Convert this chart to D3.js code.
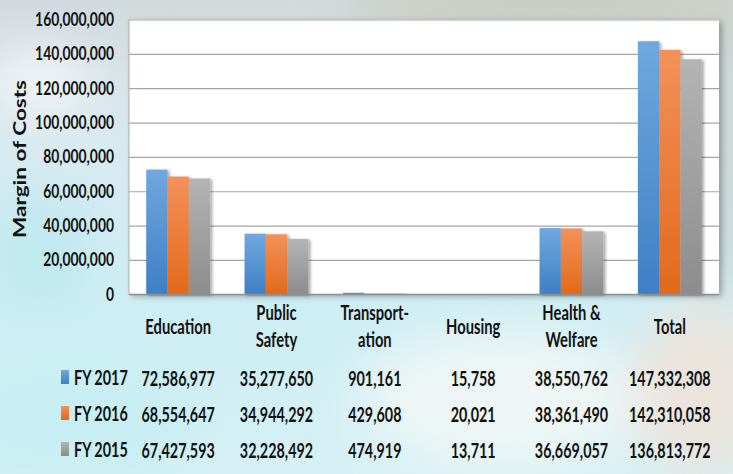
<!DOCTYPE html>
<html><head><meta charset="utf-8">
<script src="https://cdn.jsdelivr.net/npm/d3@7"></script>
<style>html,body{margin:0;padding:0;overflow:hidden;background:#fff}svg{display:block}</style>
</head><body><svg id="c" width="733" height="474"></svg>
<script>
// ---- data ----
const categories = ["Education", "Public Safety", "Transport-ation", "Housing", "Health & Welfare", "Total"];
const categoryLines = [["Education"], ["Public", "Safety"], ["Transport-", "ation"], ["Housing"], ["Health &", "Welfare"], ["Total"]];
const seriesNames = ["FY 2017", "FY 2016", "FY 2015"];
const fy2017 = [72586977, 35277650, 901161, 15758, 38550762, 147332308];
const fy2016 = [68554647, 34944292, 429608, 20021, 38361490, 142310058];
const fy2015 = [67427593, 32228492, 474919, 13711, 36669057, 136813772];
const yTicks = [0, 20000000, 40000000, 60000000, 80000000, 100000000, 120000000, 140000000, 160000000];
const yTitle = "Margin of Costs";

const seriesValues = [fy2017, fy2016, fy2015];
const colors = [["#70a8de", "#3e7fc6"], ["#f3915a", "#e2691a"], ["#b4b4b4", "#8c8c8c"]];

const W = 733, H = 474;
const plot = {left: 129, right: 719, top: 19.5, bottom: 294.3};
const FONT = "Lato, 'Open Sans', sans-serif";
const SX = 0.72;

const svg = d3.select("#c");
const defs = svg.append("defs");

// background
const bg = defs.append("linearGradient").attr("id", "bg").attr("x1", 0).attr("y1", 0).attr("x2", 0).attr("y2", 1);
bg.append("stop").attr("offset", 0).attr("stop-color", "#d3dadb");
bg.append("stop").attr("offset", 0.3).attr("stop-color", "#d9e9f0");
bg.append("stop").attr("offset", 0.65).attr("stop-color", "#cdeef4");
bg.append("stop").attr("offset", 1).attr("stop-color", "#d6f1f5");
defs.append("filter").attr("id", "blur").attr("x", "-50%").attr("y", "-50%").attr("width", "200%").attr("height", "200%")
  .append("feGaussianBlur").attr("stdDeviation", 25);
const sh = defs.append("filter").attr("id", "shadow").attr("x", "-20%").attr("y", "-5%").attr("width", "150%").attr("height", "115%");
sh.append("feDropShadow").attr("dx", 2).attr("dy", 1).attr("stdDeviation", 1.5).attr("flood-color", "#000").attr("flood-opacity", 0.35);
const psh = defs.append("filter").attr("id", "pshadow").attr("x", "-5%").attr("y", "-5%").attr("width", "110%").attr("height", "112%");
psh.append("feDropShadow").attr("dx", 3).attr("dy", 2).attr("stdDeviation", 3).attr("flood-color", "#000").attr("flood-opacity", 0.3);

svg.append("rect").attr("width", W).attr("height", H).attr("fill", "url(#bg)");
const blobs = svg.append("g").attr("filter", "url(#blur)");
blobs.append("ellipse").attr("cx", 560).attr("cy", 5).attr("rx", 220).attr("ry", 30).attr("fill", "#c8ccbf");
blobs.append("ellipse").attr("cx", 40).attr("cy", 80).attr("rx", 55).attr("ry", 35).attr("fill", "#f2f6f8");
blobs.append("ellipse").attr("cx", 60).attr("cy", 20).attr("rx", 60).attr("ry", 25).attr("fill", "#cfd9e2");
blobs.append("ellipse").attr("cx", 40).attr("cy", 250).attr("rx", 50).attr("ry", 60).attr("fill", "#bfe9f0");
blobs.append("ellipse").attr("cx", 700).attr("cy", 390).attr("rx", 70).attr("ry", 90).attr("fill", "#ebe4dd");
blobs.append("ellipse").attr("cx", 500).attr("cy", 400).attr("rx", 140).attr("ry", 70).attr("fill", "#eef6f5");
blobs.append("ellipse").attr("cx", 80).attr("cy", 420).attr("rx", 120).attr("ry", 60).attr("fill", "#c7eef3");
blobs.append("ellipse").attr("cx", 728).attr("cy", 160).attr("rx", 20).attr("ry", 140).attr("fill", "#c4ccc8");

// gradients for bars
colors.forEach((c, i) => {
  const g = defs.append("linearGradient").attr("id", "g" + i).attr("x1", 0).attr("y1", 0).attr("x2", 0).attr("y2", 1);
  g.append("stop").attr("offset", 0).attr("stop-color", c[0]);
  g.append("stop").attr("offset", 1).attr("stop-color", c[1]);
});

// scales
const x0 = d3.scaleBand().domain(categories).range([plot.left, plot.right]).paddingInner(0.35).paddingOuter(0.175);
const x1 = d3.scaleBand().domain(seriesNames).range([0, x0.bandwidth()]);
const y = d3.scaleLinear().domain([0, 160000000]).range([plot.bottom, plot.top]);

// plot area
svg.append("rect").attr("x", plot.left).attr("y", plot.top).attr("width", plot.right - plot.left)
  .attr("height", plot.bottom - plot.top).attr("fill", "#fff").attr("filter", "url(#pshadow)");

// gridlines via axis
const grid = svg.append("g").attr("transform", `translate(${plot.left},0)`)
  .call(d3.axisLeft(y).tickValues(yTicks).tickSize(-(plot.right - plot.left)).tickFormat(""));
grid.select(".domain").remove();
grid.selectAll("line").attr("stroke", "#a6a6a6").attr("stroke-width", 1.2);
svg.append("line").attr("x1", plot.left).attr("x2", plot.left).attr("y1", plot.top).attr("y2", plot.bottom)
  .attr("stroke", "#b0b0b0").attr("stroke-width", 1);

function stext(sel, x, yb, str, opt) {
  const g = sel.append("g").attr("transform", `translate(${x},${yb}) scale(${opt.sx || SX},1)`);
  return g.append("text").attr("text-anchor", opt.anchor || "middle").attr("font-family", FONT)
    .attr("font-weight", "bold").attr("font-size", opt.size).attr("fill", "#111").text(str);
}

// y tick labels
const fmt = d3.format(",");
const yl = svg.append("g");
yTicks.forEach(t => stext(yl, 114, y(t) + 6.5, fmt(t), {anchor: "end", size: 18.5, sx: 0.75}));

// y title
svg.append("g").attr("transform", `translate(25.5,159) rotate(-90)`)
  .append("text").attr("text-anchor", "middle").attr("font-family", FONT).attr("font-weight", "bold")
  .attr("font-size", 16.5).attr("fill", "#111").attr("textLength", 158).attr("lengthAdjust", "spacingAndGlyphs")
  .text(yTitle);

// bars
const groups = svg.append("g").selectAll("g").data(categories).join("g")
  .attr("transform", d => `translate(${x0(d)},0)`);
groups.selectAll("rect").data((d, ci) => seriesNames.map((s, si) => ({s, si, v: seriesValues[si][ci]})))
  .join("rect")
  .attr("x", d => x1(d.s)).attr("width", x1.bandwidth())
  .attr("y", d => y(d.v)).attr("height", d => y(0) - y(d.v))
  .attr("fill", d => `url(#g${d.si})`).attr("filter", "url(#shadow)");

// x baseline
svg.append("line").attr("x1", plot.left).attr("x2", plot.right).attr("y1", plot.bottom).attr("y2", plot.bottom)
  .attr("stroke", "#8f8f8f").attr("stroke-width", 1.3);

// category labels
const cl = svg.append("g");
categories.forEach((c, i) => {
  const cx = x0(c) + x0.bandwidth() / 2;
  const lines = categoryLines[i];
  if (lines.length === 1) stext(cl, cx, 334, lines[0], {size: 20.5});
  else { stext(cl, cx, 320, lines[0], {size: 20.5}); stext(cl, cx, 347, lines[1], {size: 20.5}); }
});

// data table
const rowY = [378, 414, 450];
const tb = svg.append("g");
seriesNames.forEach((s, si) => {
  const ry = rowY[si];
  tb.append("rect").attr("x", 61).attr("y", ry - 8).attr("width", 8).attr("height", 14).attr("fill", `url(#g${si})`);
  stext(tb, 74, ry + 7, s, {anchor: "start", size: 20});
  categories.forEach((c, ci) => {
    stext(tb, x0(c) + x0.bandwidth() / 2, ry + 7.5, fmt(seriesValues[si][ci]), {size: 20.5, sx: 0.7});
  });
});
</script></body></html>
